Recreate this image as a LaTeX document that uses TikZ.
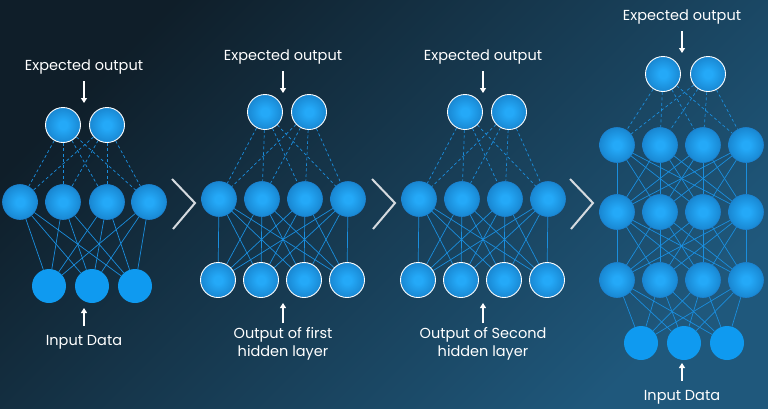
\documentclass[tikz,border=0pt]{standalone}
\usepackage{fontspec}
\setmainfont{Poppins}
\usetikzlibrary{arrows.meta, positioning, shapes}

\definecolor{bgdark}{HTML}{0F1E29}
\definecolor{bglight}{HTML}{1F587C}
\definecolor{wire}{HTML}{1A8EDE}
\definecolor{ballin}{HTML}{24A9F8}
\definecolor{ballout}{HTML}{0A5BA0}
\definecolor{ballrim}{HTML}{1C84D4}
\definecolor{inputblue}{HTML}{0F9AF0}
\definecolor{chev}{HTML}{D5DADF}

\pgfdeclarelayer{bg}
\pgfdeclarelayer{wires}
\pgfsetlayers{bg,wires,main}

\pgfdeclareradialshading{neuronball}{\pgfpoint{0bp}{0bp}}{%
  color(0bp)=(ballin); color(6bp)=(ballin); color(50bp)=(ballout)}

\tikzset{
  neuron/.style={circle, minimum size=35pt, inner sep=0pt, shading=neuronball,
    draw=ballrim, line width=0.6pt},
  outneuron/.style={neuron, draw=white, line width=0.9pt},
  inneuron/.style={circle, minimum size=34pt, inner sep=0pt, fill=inputblue},
  link/.style={wire, line width=0.7pt},
  dlink/.style={link, dash pattern=on 3pt off 2.5pt},
  caption/.style={text=white, inner sep=0pt, align=center,
    font=\fontsize{14.5}{18}\selectfont},
  pointer/.style={white, line width=1.1pt, -{Triangle[length=5pt,width=6pt]}},
  chevron/.style={chev, line width=2pt},
}

\begin{document}
\begin{tikzpicture}[x=1pt, y=-1pt]
  \useasboundingbox (0,0) rectangle (768,408);
  \begin{pgfonlayer}{bg}
    \shade[top color=bgdark, bottom color=bglight, shading angle=45]
      (0,0) rectangle (768,408);
  \end{pgfonlayer}

  % Panel 1: small network
  \foreach \x [count=\k] in {63,107}
    \node[outneuron] (a-o\k) at (\x,125) {};
  \foreach \x [count=\k] in {20,63,107,149}
    \node[neuron] (a-h\k) at (\x,202) {};
  \foreach \x [count=\k] in {49,92,135}
    \node[inneuron] (a-i\k) at (\x,286) {};
  \node[caption] (a-exp) at (84,67) {Expected output};
  \coordinate (a-tip) at (84,103);
  \draw[pointer, shorten <=7pt] (a-exp.south) -- (a-tip);
  \node[caption] (a-inp) at (84,342) {Input Data};
  \coordinate (a-up) at (84,308);
  \draw[pointer, shorten <=9pt] (a-inp.north) -- (a-up);
  \begin{pgfonlayer}{wires}
    \foreach \o in {1,2} \foreach \h in {1,...,4}
      \draw[dlink] (a-o\o) -- (a-h\h);
    \foreach \h in {1,...,4} \foreach \i in {1,2,3}
      \draw[link] (a-h\h) -- (a-i\i);
  \end{pgfonlayer}

  % Panels 2 and 3: one hidden layer fed by the previous one
  \foreach \p/\dx/\txt in {b/0/first, c/200/Second} {
    \foreach \x [count=\k] in {265,309}
      \node[outneuron] (\p-o\k) at (\x+\dx,112) {};
    \foreach \x [count=\k] in {219,262,305,348}
      \node[neuron] (\p-h\k) at (\x+\dx,199) {};
    \foreach \x [count=\k] in {218,261,304,347}
      \node[outneuron] (\p-l\k) at (\x+\dx,280) {};
    \node[caption] (\p-exp) at (283+\dx,57) {Expected output};
    \coordinate (\p-tip) at (283+\dx,93);
    \draw[pointer, shorten <=7pt] (\p-exp.south) -- (\p-tip);
    \node[caption] (\p-inp) at (283+\dx,344) {Output of \txt\\hidden layer};
    \coordinate (\p-up) at (283+\dx,303);
    \draw[pointer, shorten <=4pt] (\p-inp.north) -- (\p-up);
    \begin{pgfonlayer}{wires}
      \foreach \o in {1,2} \foreach \h in {1,...,4}
        \draw[dlink] (\p-o\o) -- (\p-h\h);
      \foreach \h in {1,...,4} \foreach \l in {1,...,4}
        \draw[link] (\p-h\h) -- (\p-l\l);
    \end{pgfonlayer}
  }

  % Panel 4: full deep network
  \foreach \x [count=\k] in {663,708}
    \node[outneuron] (d-o\k) at (\x,74) {};
  \foreach \r/\y in {h/145, m/212, n/280}
    \foreach \x [count=\k] in {617,660,703,746}
      \node[neuron] (d-\r\k) at (\x,\y) {};
  \foreach \x [count=\k] in {641,684,727}
    \node[inneuron] (d-i\k) at (\x,343) {};
  \node[caption] (d-exp) at (682,17) {Expected output};
  \coordinate (d-tip) at (682,53);
  \draw[pointer, shorten <=7pt] (d-exp.south) -- (d-tip);
  \node[caption] (d-inp) at (682,397) {Input Data};
  \coordinate (d-up) at (682,363);
  \draw[pointer, shorten <=9pt] (d-inp.north) -- (d-up);
  \begin{pgfonlayer}{wires}
    \foreach \o in {1,2} \foreach \h in {1,...,4}
      \draw[dlink] (d-o\o) -- (d-h\h);
    \foreach \a/\b in {h/m, m/n} \foreach \s in {1,...,4} \foreach \t in {1,...,4}
      \draw[link] (d-\a\s) -- (d-\b\t);
    \foreach \s in {1,...,4} \foreach \i in {1,2,3}
      \draw[link] (d-n\s) -- (d-i\i);
  \end{pgfonlayer}

  % Chevrons between panels
  \foreach \cx in {172,372,570}
    \draw[chevron] (\cx,179) -- (\cx+23,203) -- (\cx+1,229);
\end{tikzpicture}
\end{document}
